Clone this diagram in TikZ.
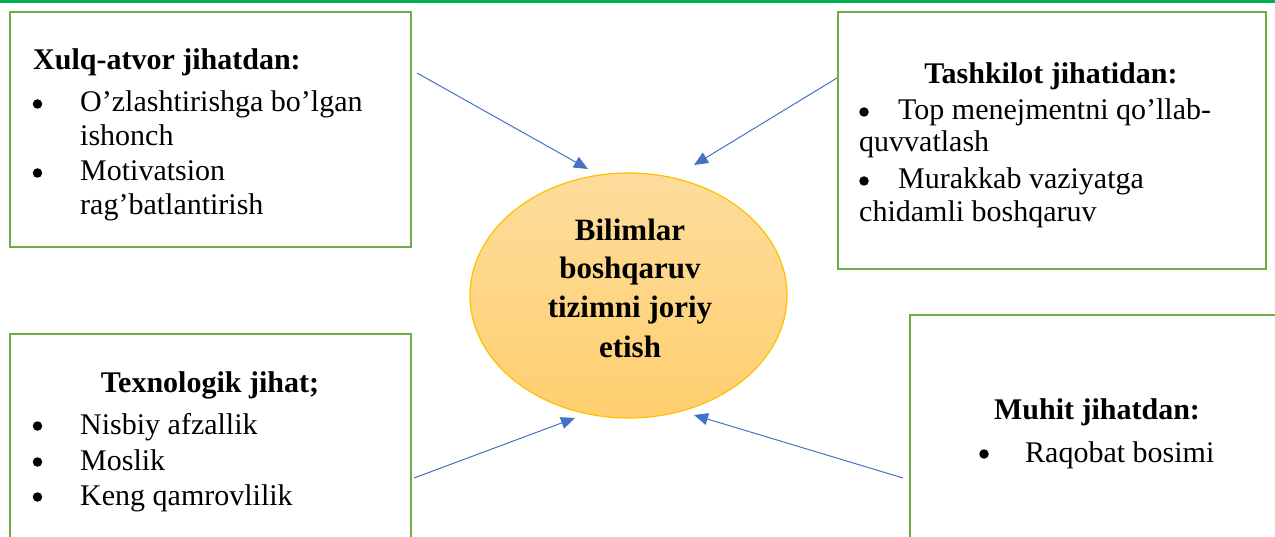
\documentclass[tikz,border=0pt]{standalone}
\usepackage{fontspec}
\setmainfont{Liberation Serif}
\usetikzlibrary{arrows.meta,shapes.geometric}
\definecolor{boxgreen}{HTML}{70AD47}
\definecolor{topgreen}{HTML}{00B050}
\definecolor{arrowblue}{HTML}{4472C4}
\definecolor{ellborder}{HTML}{FFC000}
\definecolor{elltop}{HTML}{FDDC9C}
\definecolor{ellbot}{HTML}{FFCF6E}
\tikzset{
  x=1pt, y=-1pt,
  greenbox/.style={draw=boxgreen, line width=2.5pt},
  txt/.style={inner sep=0pt, anchor=base west, font=\fontsize{30}{36}\selectfont},
  head/.style={inner sep=0pt, anchor=base, font=\fontsize{30}{36}\selectfont\bfseries},
  bul/.style={circle, fill=black, inner sep=0pt, minimum size=9.5pt},
  etxt/.style={inner sep=0pt, anchor=base, font=\fontsize{31}{39}\selectfont\bfseries},
  conn/.style={draw=arrowblue, line width=1pt, -{Triangle[length=14pt,width=12pt]}},
}
\begin{document}
\begin{tikzpicture}
\useasboundingbox (0,0) rectangle (1275,537);
\fill[topgreen] (0,0) rectangle (1275,3);
% boxes
\draw[greenbox] (10,12) rectangle (411,247);
\draw[greenbox] (838,12) rectangle (1266,269);
\draw[greenbox] (10,334) rectangle (411,580);
\draw[greenbox] (910,315) rectangle (1290,580);
% ellipse
\node[ellipse, draw=ellborder, line width=1.2pt, top color=elltop, bottom color=ellbot,
      minimum width=317pt, minimum height=245pt, inner sep=0pt] (ell) at (628.5,295.5) {};
\node[etxt] (e1) at (630,241) {Bilimlar};
\node[etxt] (e2) at (630,279) {boshqaruv};
\node[etxt] (e3) at (630,318) {tizimni joriy};
\node[etxt] (e4) at (630,358) {etish};
% box 1 text
\node[txt, font=\fontsize{30}{36}\selectfont\bfseries] (h1) at (33,70) {Xulq-atvor jihatdan:};
\node[bul] (p11) at (37.5,104) {};
\node[txt] (t11) at (80,112) {O’zlashtirishga bo’lgan};
\node[txt] (t12) at (80,146) {ishonch};
\node[bul] (p12) at (37.5,173) {};
\node[txt] (t13) at (80,181) {Motivatsion};
\node[txt] (t14) at (80,215) {rag’batlantirish};
% box 2 text
\node[head] (h2) at (1051,84) {Tashkilot jihatidan:};
\node[bul] (p21) at (864,112) {};
\node[txt] (t21) at (898,120) {Top menejmentni qo’llab-};
\node[txt] (t22) at (859,152) {quvvatlash};
\node[bul] (p22) at (864,181) {};
\node[txt] (t23) at (898,189) {Murakkab vaziyatga};
\node[txt] (t24) at (859,222) {chidamli boshqaruv};
% box 3 text
\node[head] (h3) at (210,392) {Texnologik jihat;};
\node[bul] (p31) at (37.5,426) {};
\node[txt] (t31) at (80,434) {Nisbiy afzallik};
\node[bul] (p32) at (37.5,462) {};
\node[txt] (t32) at (80,470) {Moslik};
\node[bul] (p33) at (37.5,497) {};
\node[txt] (t33) at (80,505) {Keng qamrovlilik};
% box 4 text
\node[head] (h4) at (1097,420) {Muhit jihatdan:};
\node[bul] (p41) at (984,454) {};
\node[txt] (t41) at (1025,462) {Raqobat bosimi};
% connectors
\coordinate (s1) at (417,73);  \coordinate (e1t) at (588,169);
\coordinate (s2) at (837,78);  \coordinate (e2t) at (694,165);
\coordinate (s3) at (414,478); \coordinate (e3t) at (575,418);
\coordinate (s4) at (903,478); \coordinate (e4t) at (694,415);
\draw[conn] (s1) -- (e1t);
\draw[conn] (s2) -- (e2t);
\draw[conn] (s3) -- (e3t);
\draw[conn] (s4) -- (e4t);
\end{tikzpicture}
\end{document}
